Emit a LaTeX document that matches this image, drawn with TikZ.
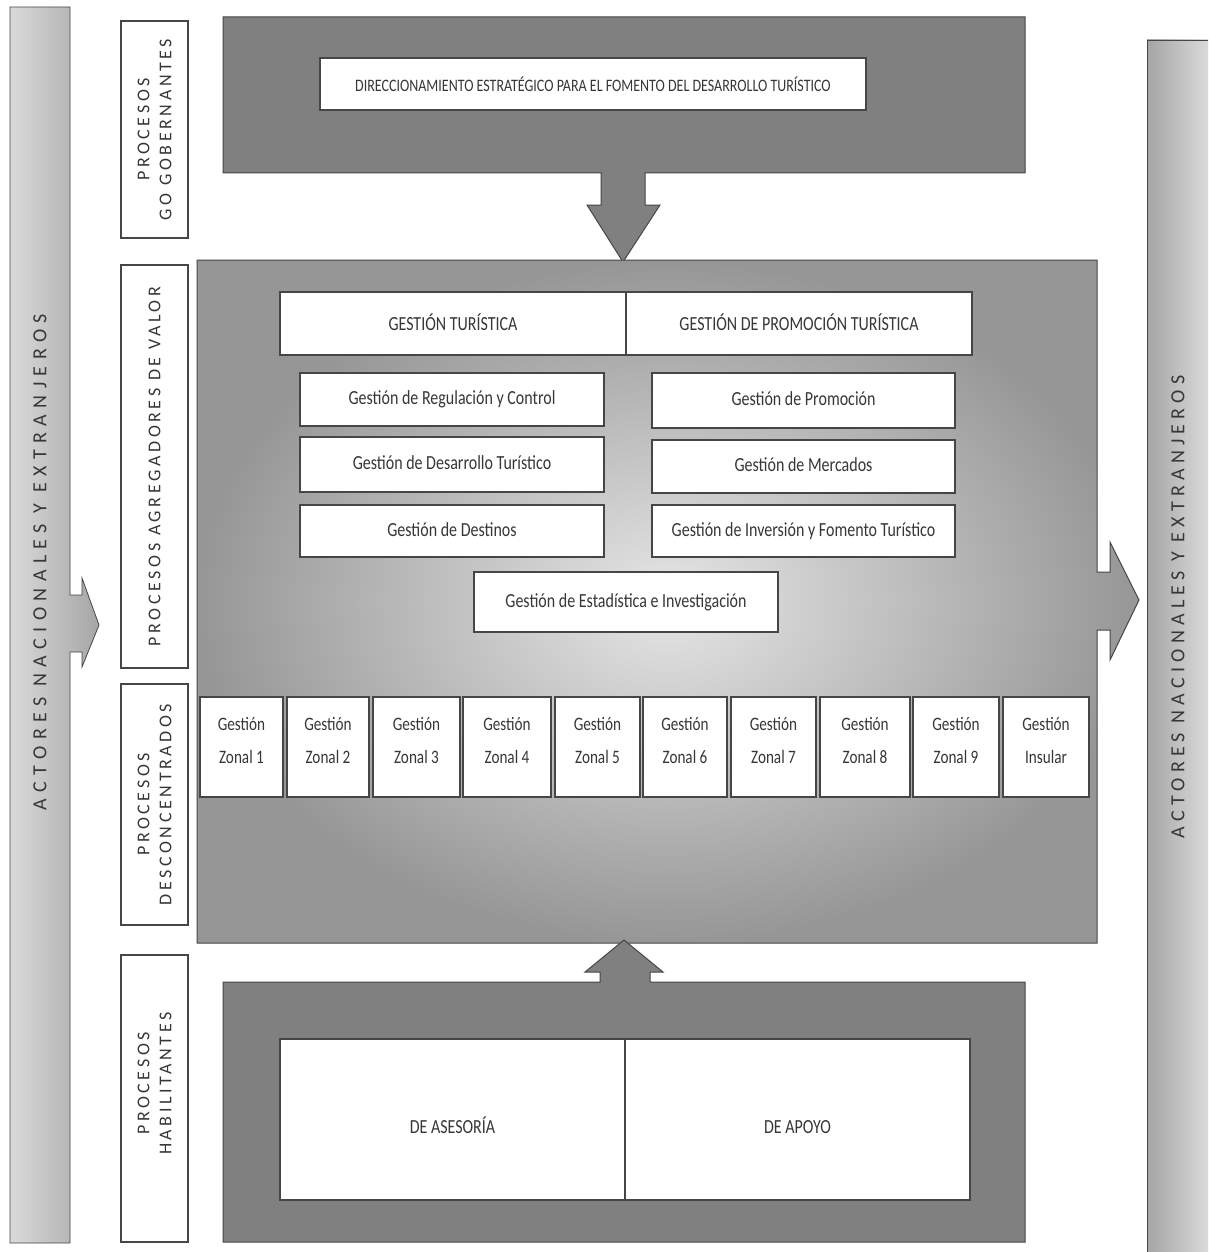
\documentclass[tikz,border=0pt]{standalone}
\usepackage{fontspec}
\setmainfont{Carlito}
\newfontfamily\cond[FakeStretch=0.8]{Carlito}
\newfontfamily\capsf[LetterSpace=20]{Carlito}
\newfontfamily\actf[LetterSpace=32]{Carlito}
\newfontfamily\actg[LetterSpace=26]{Carlito}
\usetikzlibrary{calc}
\definecolor{darkfill}{RGB}{128,128,128}
\definecolor{edge}{RGB}{70,70,70}
\definecolor{txt}{RGB}{55,55,55}
\definecolor{barlight}{RGB}{218,218,218}
\definecolor{bardark}{RGB}{165,165,165}
\definecolor{midlight}{RGB}{230,230,230}
\definecolor{middark}{RGB}{150,150,150}
\tikzset{
  wbox/.style={draw=edge, line width=1.5pt, fill=white, inner sep=0pt, text=txt},
  zbox/.style={draw=edge, line width=2pt, fill=white, inner sep=0pt, minimum height=100},
  ztext/.style={text=txt, align=center, font=\cond\fontsize{19}{33}\selectfont},
  lbox/.style={draw=edge, line width=1.5pt, fill=white, minimum width=67, inner sep=0pt},
  ltext/.style={rotate=90, text=txt, align=center, font=\capsf\fontsize{18}{22}\selectfont},
  gtext/.style={font=\cond\fontsize{20}{22}\selectfont, text height=14, text depth=4},
  htext/.style={font=\cond\fontsize{20}{22}\selectfont, text height=16, text depth=2},
  btext/.style={text=txt, font=\cond\fontsize{20}{22}\selectfont, text height=16, text depth=2},
  acttext/.style={rotate=90, text=txt, font=\actf\fontsize{20}{22}\selectfont},
  acttextr/.style={rotate=90, text=txt, font=\actg\fontsize{20}{22}\selectfont},
}
\begin{document}
\begin{tikzpicture}[x=1pt,y=-1pt]
\useasboundingbox (0,0) rectangle (1208,1252);
\fill[white] (0,0) rectangle (1208,1252);

% left bar with arrow
\path[draw=edge, line width=0.8pt, left color=barlight, right color=bardark]
  (10,7) -- (70,7) -- (70,595) -- (82,595) -- (82,578) -- (99,625) -- (82,667)
  -- (82,652) -- (70,652) -- (70,1243) -- (10,1243) -- cycle;
\node[acttext] (actL) at (40,562) {ACTORES NACIONALES Y EXTRANJEROS};

% right bar
\path[left color=bardark, right color=barlight] (1147,40) rectangle (1208,1252);
\draw[edge, line width=0.8pt] (1208,40) -- (1147,40) -- (1147,1252);
\node[acttextr] (actR) at (1178,607) {ACTORES NACIONALES Y EXTRANJEROS};

% top dark frame with down arrow
\path[fill=darkfill, draw=edge, line width=1pt]
  (223,17) -- (1025,17) -- (1025,173) -- (645,173) -- (645,205) -- (660,205)
  -- (623,262) -- (587,205) -- (601,205) -- (601,173) -- (223,173) -- cycle;
\node[wbox, minimum width=546, minimum height=52, font=\cond\fontsize{17.5}{18}\selectfont]
  (dir) at (593,84) {DIRECCIONAMIENTO ESTRATÉGICO PARA EL FOMENTO DEL DESARROLLO TURÍSTICO};

% middle box with right arrow
\path[draw=edge, line width=1pt, inner color=midlight, outer color=middark]
  (197,260) -- (1097,260) -- (1097,572) -- (1110,572) -- (1110,542) -- (1139,600)
  -- (1110,660) -- (1110,630) -- (1097,630) -- (1097,943) -- (197,943) -- cycle;

% bottom dark frame with up arrow
\path[fill=darkfill, draw=edge, line width=1pt]
  (223,1242) -- (1025,1242) -- (1025,982) -- (650,982) -- (650,972) -- (663,972)
  -- (624,940) -- (585,972) -- (600,972) -- (600,982) -- (223,982) -- cycle;
\node[wbox, minimum width=345, minimum height=161] (ase) at (452.5,1119.5) {};
\node[wbox, minimum width=345, minimum height=161] (apo) at (797.5,1119.5) {};
\node[btext] (aset) at ($(ase.center)+(0,7)$) {DE ASESORÍA};
\node[btext] (apot) at ($(apo.center)+(0,7)$) {DE APOYO};

% left label boxes
\node[lbox, minimum height=217] (lg) at (154.5,129.5) {};
\node[ltext] (lgt) at (lg.center) {PROCESOS\\GO GOBERNANTES};
\node[lbox, minimum height=403] (la) at (154.5,466.5) {};
\node[ltext] (lat) at (la.center) {PROCESOS AGREGADORES DE VALOR};
\node[lbox, minimum height=241] (ld) at (154.5,804.5) {};
\node[ltext] (ldt) at (ld.center) {PROCESOS\\DESCONCENTRADOS};
\node[lbox, minimum height=287] (lh) at (154.5,1098.5) {};
\node[ltext] (lht) at ($(lh.center)+(0,-15)$) {PROCESOS\\HABILITANTES};

% header row
\node[wbox, minimum width=346, minimum height=63, htext] (gt) at (453,323.5) {GESTIÓN TURÍSTICA};
\node[wbox, minimum width=346, minimum height=63, htext] (gp) at (799,323.5) {GESTIÓN DE PROMOCIÓN TURÍSTICA};

% left column
\node[wbox, minimum width=304, minimum height=53, gtext] (l1) at (452,399.5) {Gestión de Regulación y Control};
\node[wbox, minimum width=304, minimum height=55, gtext] (l2) at (452,464.5) {Gestión de Desarrollo Turístico};
\node[wbox, minimum width=304, minimum height=52, gtext] (l3) at (452,531) {Gestión de Destinos};
% right column
\node[wbox, minimum width=303, minimum height=55, gtext] (r1) at (803.5,400.5) {Gestión de Promoción};
\node[wbox, minimum width=303, minimum height=53, gtext] (r2) at (803.5,466.5) {Gestión de Mercados};
\node[wbox, minimum width=303, minimum height=52, gtext] (r3) at (803.5,531) {Gestión de Inversión y Fomento Turístico};
% estadistica
\node[wbox, minimum width=304, minimum height=60, gtext] (est) at (626,602) {Gestión de Estadística e Investigación};

% zonal boxes
\foreach \n/\cx/\w/\t in {1/241.5/83/Zonal 1, 2/328/82/Zonal 2, 3/416.5/87/Zonal 3,
  4/507/88/Zonal 4, 5/597.5/85/Zonal 5, 6/685/84/Zonal 6, 7/773.5/85/Zonal 7,
  8/865/90/Zonal 8, 9/956/86/Zonal 9, 10/1046/86/Insular}{
  \node[zbox, minimum width=\w] (z\n) at (\cx,747) {};
  \node[ztext] (z\n t) at ($(z\n.center)+(0,-7)$) {Gestión\\\t};
}
\end{tikzpicture}
\end{document}
